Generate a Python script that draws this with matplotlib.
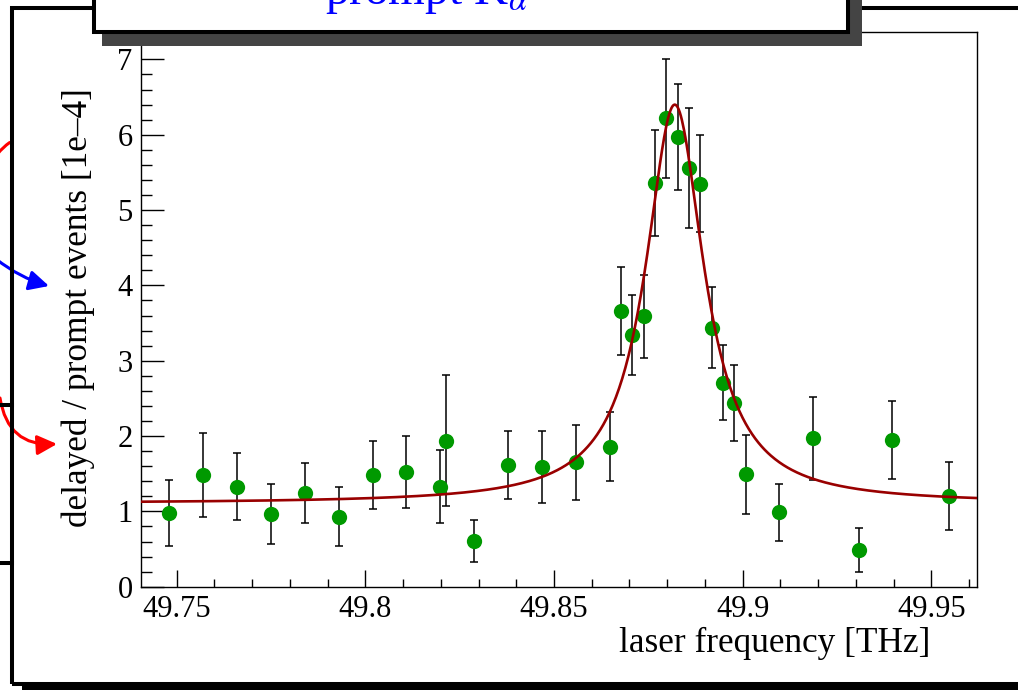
import numpy as np
import matplotlib
matplotlib.use("Agg")
import matplotlib.pyplot as plt
from matplotlib.patches import Rectangle, FancyArrowPatch
from matplotlib.lines import Line2D
from matplotlib.ticker import MultipleLocator

plt.rcParams['font.family'] = ['Liberation Serif', 'DejaVu Serif']
plt.rcParams['mathtext.fontset'] = 'stix'

# measured resonance points (delayed / prompt ratio in units of 1e-4)
freq = [49.7480, 49.7570, 49.7660, 49.7749, 49.7839, 49.7930, 49.8020, 49.8109,
        49.8199, 49.8214, 49.8289, 49.8379, 49.8469, 49.8558, 49.8648, 49.8678,
        49.8707, 49.8738, 49.8768, 49.8798, 49.8828, 49.8858, 49.8888, 49.8918,
        49.8948, 49.8978, 49.9008, 49.9097, 49.9187, 49.9307, 49.9396, 49.9547]
ratio = [0.98, 1.48, 1.33, 0.97, 1.24, 0.93, 1.48, 1.52,
         1.33, 1.94, 0.61, 1.62, 1.59, 1.65, 1.86, 3.66,
         3.34, 3.59, 5.36, 6.22, 5.97, 5.56, 5.35, 3.44,
         2.71, 2.44, 1.49, 0.99, 1.97, 0.49, 1.95, 1.20]
ratio_err = [0.44, 0.56, 0.45, 0.40, 0.40, 0.39, 0.45, 0.48,
             0.48, 0.87, 0.28, 0.45, 0.48, 0.50, 0.46, 0.59,
             0.53, 0.55, 0.70, 0.79, 0.70, 0.80, 0.64, 0.54,
             0.50, 0.50, 0.53, 0.38, 0.55, 0.29, 0.52, 0.45]

# Lorentzian fit: background, amplitude, centre, half width
fit_bg = 1.105
fit_amp = 5.295
fit_x0 = 49.8820
fit_hw = 0.0094

W, H = 1018, 690
fig = plt.figure(figsize=(W / 100, H / 100), dpi=100)


def px(x, y):
    # pixel position (from top-left) -> figure fraction
    return (x / W, 1 - y / H)


ax = fig.add_axes([141 / W, 1 - 586.7 / H, 836 / W, 554.4 / H])

ax.errorbar(freq, ratio, yerr=ratio_err, fmt='none', ecolor='black',
            elinewidth=1.1, capsize=3, capthick=1.1, zorder=2)
ax.plot(freq, ratio, 'o', color='#009900', markersize=11, markeredgewidth=0, zorder=3)

xf = np.linspace(49.7405, 49.9621, 800)
yf = fit_bg + fit_amp * fit_hw**2 / ((xf - fit_x0)**2 + fit_hw**2)
ax.plot(xf, yf, color='#990000', lw=1.9, zorder=4)

ax.set_xlim(49.74057, 49.96208)
ax.set_ylim(0, 7.36)
ax.xaxis.set_major_locator(MultipleLocator(0.05))
ax.xaxis.set_minor_locator(MultipleLocator(0.01))
ax.yaxis.set_major_locator(MultipleLocator(1))
ax.yaxis.set_minor_locator(MultipleLocator(0.2))
ax.set_xticks([49.75, 49.8, 49.85, 49.9, 49.95])
ax.set_xticklabels(['49.75', '49.8', '49.85', '49.9', '49.95'])
ax.tick_params(axis='x', which='major', direction='in', length=12, width=1, pad=6, labelsize=22)
ax.tick_params(axis='x', which='minor', direction='in', length=5.5, width=1)
ax.tick_params(axis='y', which='major', direction='in', length=16.5, width=1, pad=6, labelsize=22)
ax.tick_params(axis='y', which='minor', direction='in', length=8, width=1)
for s in ax.spines.values():
    s.set_linewidth(1)

ax.set_xlabel('laser frequency [THz]', fontsize=25.4, loc='right')
ax.xaxis.set_label_coords(0.944, -0.072)
ax.set_ylabel('delayed / prompt events [1e\u20134]', fontsize=25.4, loc='top')
ax.yaxis.set_label_coords(-0.055, 0.9)

# outer panel frame with drop shadow along the bottom
fig.add_artist(Rectangle(px(12, 684), (1100 - 12) / W, (684 - 8) / H, transform=fig.transFigure,
                         fill=False, ec='black', lw=2.9, zorder=2, clip_on=False))
fig.add_artist(Rectangle(px(22, 692), (W - 22) / W, 8 / H, transform=fig.transFigure,
                         fc='black', ec='none', zorder=2))

# title box with shadow
fig.add_artist(Rectangle(px(102, 46), 760 / W, 80 / H, transform=fig.transFigure,
                         fc='#444444', ec='none', zorder=3))
fig.add_artist(Rectangle(px(93.5, 31.5), (848 - 93.5) / W, 60 / H, transform=fig.transFigure,
                         fc='white', ec='black', lw=2.9, zorder=4))
fig.text(427 / W, 1 - 4 / H, r'prompt K$_{\alpha}$', color='blue', fontsize=34,
         ha='center', va='baseline', zorder=5)

# pieces of neighbouring boxes and arrows
for yy in (404.7, 563):
    fig.add_artist(Line2D([0, 12 / W], [1 - yy / H] * 2, transform=fig.transFigure,
                          color='black', lw=2.9, zorder=2))
fig.add_artist(FancyArrowPatch(px(-4, 156), px(12, 141), transform=fig.transFigure,
                               arrowstyle='-', color='red', lw=2.2,
                               connectionstyle='arc3,rad=-0.1', zorder=1))
fig.add_artist(FancyArrowPatch(px(-4, 259), px(49, 286), transform=fig.transFigure,
                               arrowstyle='-|>,head_length=0.6,head_width=0.3',
                               color='blue', lw=2.2, mutation_scale=20,
                               connectionstyle='arc3,rad=0.1', shrinkA=0, shrinkB=0, zorder=1))
fig.add_artist(FancyArrowPatch(px(0, 398), px(57, 444), transform=fig.transFigure,
                               arrowstyle='-|>,head_length=0.6,head_width=0.3',
                               color='red', lw=2.2, mutation_scale=20,
                               connectionstyle='arc3,rad=0.45', shrinkA=0, shrinkB=0, zorder=1))

fig.savefig('out.png', dpi=100)
